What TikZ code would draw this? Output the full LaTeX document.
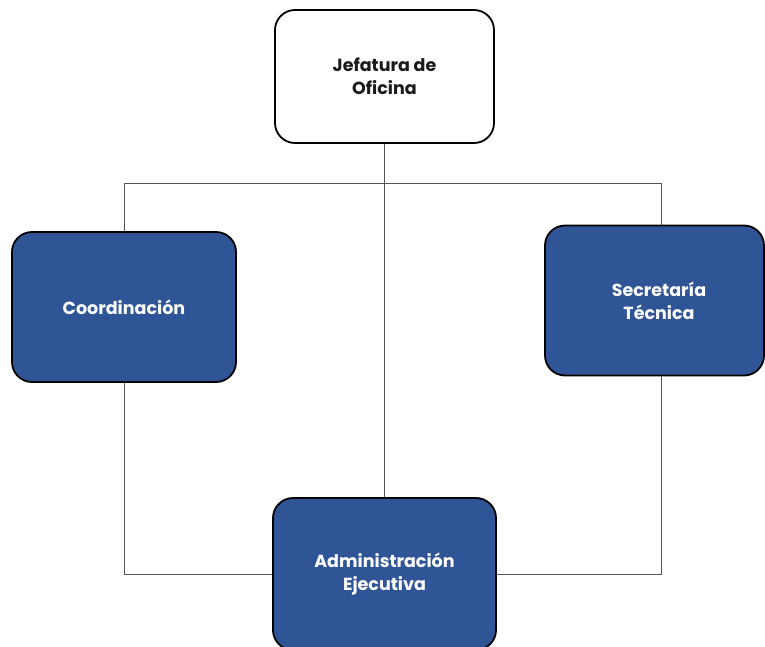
\documentclass[tikz,border=0pt]{standalone}
\usepackage{fontspec}
\setmainfont{Poppins}
\definecolor{boxblue}{HTML}{2F5597}
\definecolor{linegray}{HTML}{555555}
\definecolor{txtdark}{HTML}{1A1A1A}
\begin{document}
\begin{tikzpicture}[x=1pt,y=-1pt,
  box/.style={draw=black,line width=1.8pt,rounded corners=20pt,align=center,
    font=\fontsize{17.5}{23}\selectfont\bfseries,inner sep=0pt},
  whitebox/.style={box,fill=white,text=txtdark},
  bluebox/.style={box,fill=boxblue,text=white},
  conn/.style={draw=linegray,line width=1pt}]
\useasboundingbox (0,0) rectangle (765,646);
\coordinate (h) at (385,183);
\coordinate (cl) at (124,183);
\coordinate (sr) at (661,183);
\node[whitebox,minimum width=219pt,minimum height=133pt] (jef) at (384.5,76.5) {Jefatura de\\Oficina};
\node[bluebox,minimum width=224pt,minimum height=150pt] (coo) at (124,307) {Coordinación};
\node[bluebox,minimum width=219pt,minimum height=150pt] (sec) at (654.5,300.5) {\hspace*{9pt}Secretaría\\\hspace*{9pt}Técnica};
\node[bluebox,minimum width=223pt,minimum height=152pt] (adm) at (384.5,574) {Administración\\Ejecutiva};
\draw[conn] (jef.south) -- (jef.south |- adm.north);
\draw[conn] (cl) -- (sr);
\draw[conn] (cl) -- (coo.north);
\draw[conn] (sr) -- (sr |- sec.north);
\draw[conn] (coo.south) |- (adm.west);
\draw[conn] (sr |- sec.south) |- (adm.east);
\end{tikzpicture}
\end{document}
